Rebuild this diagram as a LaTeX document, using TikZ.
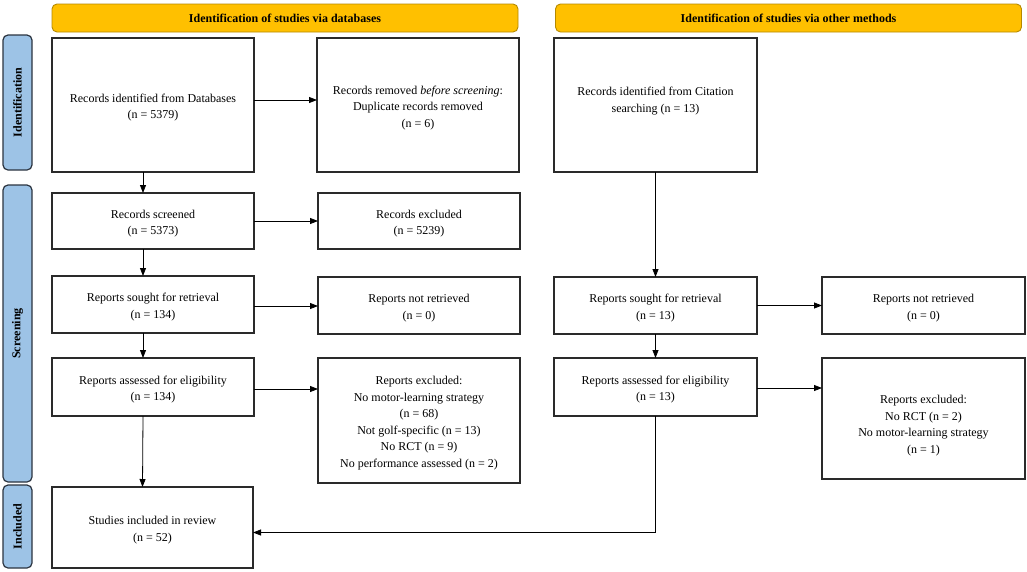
\documentclass[tikz,border=0pt]{standalone}
\usepackage{fontspec}
\setmainfont{Liberation Serif}
\usetikzlibrary{arrows.meta}
\definecolor{hdrfill}{HTML}{FFC000}
\definecolor{hdrline}{HTML}{B58900}
\definecolor{sidefill}{HTML}{9DC3E6}
\definecolor{sideline}{HTML}{2B3440}
\definecolor{boxline}{HTML}{2A2A2A}
\begin{document}
\begin{tikzpicture}[x=1pt,y=-1pt,
  every node/.style={inner sep=0pt,outer sep=0pt},
  flowbox/.style={draw=boxline,line width=1.2pt,fill=white,rectangle,align=center,
     font=\fontsize{12}{16.5}\selectfont,minimum width=202pt},
  hdr/.style={draw=hdrline,line width=0.9pt,fill=hdrfill,rounded corners=5pt,
     minimum width=466pt,minimum height=28pt,font=\fontsize{12}{14}\selectfont\bfseries},
  sidebar/.style={draw=sideline,line width=1.2pt,fill=sidefill,rounded corners=5pt,
     minimum width=29pt,font=\fontsize{12}{14}\selectfont\bfseries},
  arr/.style={draw=black,line width=0.8pt,-{Triangle[length=8pt,width=6pt]}}]
\useasboundingbox (0,0) rectangle (1027,571);
\newcommand{\topsp}{\rule{0pt}{14pt}}
% headers
\node[hdr] (h1) at (285,18) {Identification of studies via databases};
\node[hdr] (h2) at (788.5,18) {Identification of studies via other methods};
% side bars
\node[sidebar,minimum height=135pt] (sid) at (17.5,102.5) {};
\node[rotate=90,font=\fontsize{12}{14}\selectfont\bfseries] (sidt) at (sid.center) {Identification};
\node[sidebar,minimum height=297pt] (ssc) at (17.5,333.5) {};
\node[rotate=90,font=\fontsize{12}{14}\selectfont\bfseries] (ssct) at (ssc.center) {Screening};
\node[sidebar,minimum height=83pt] (sin) at (17.5,526.5) {};
\node[rotate=90,font=\fontsize{12}{14}\selectfont\bfseries] (sint) at (sin.center) {Included};
% boxes
\node[flowbox,minimum height=134pt] (b1) at (153,105) {\topsp Records identified from Databases\\(n = 5379)};
\node[flowbox,minimum height=134pt] (b2) at (418,105) {\topsp Records removed \textit{before screening}:\\Duplicate records removed\\(n = 6)};
\node[flowbox,minimum height=134pt,minimum width=203pt] (b3) at (655.5,105) {\topsp Records identified from Citation\\searching (n = 13)\\[0pt]};
\node[flowbox,minimum height=56pt] (s1) at (153,221) {\topsp Records screened\\(n = 5373)};
\node[flowbox,minimum height=56pt] (s2) at (419,221) {\topsp Records excluded\\(n = 5239)};
\node[flowbox,minimum height=57pt] (r1) at (153,304.5) {\topsp Reports sought for retrieval\\(n = 134)};
\node[flowbox,minimum height=57pt] (r2) at (419,305.5) {\topsp Reports not retrieved\\(n = 0)};
\node[flowbox,minimum height=57pt,minimum width=203pt] (r3) at (655.5,305.5) {\topsp Reports sought for retrieval\\(n = 13)};
\node[flowbox,minimum height=57pt,minimum width=203pt] (r4) at (923.5,305.5) {\topsp Reports not retrieved\\(n = 0)};
\node[flowbox,minimum height=58pt] (a1) at (153,387) {\topsp Reports assessed for eligibility\\(n = 134)};
\node[flowbox,minimum height=125pt] (a2) at (419,420.5) {\topsp Reports excluded:\\No motor-learning strategy\\(n = 68)\\Not golf-specific (n = 13)\\No RCT (n = 9)\\No performance assessed (n = 2)};
\node[flowbox,minimum height=58pt,minimum width=203pt] (a3) at (655.5,387) {\topsp Reports assessed for eligibility\\(n = 13)};
\node[flowbox,minimum height=121pt,minimum width=203pt] (a4) at (923.5,418.5) {\rule{0pt}{23pt}Reports excluded:\\No RCT (n = 2)\\No motor-learning strategy\\(n = 1)};
\node[flowbox,minimum height=81pt,minimum width=201pt] (inc) at (152.5,527.5) {\topsp Studies included in review\\(n = 52)};
% connectors
\draw[arr] ([xshift=-10pt]b1.south) -- ([xshift=-10pt]s1.north);
\draw[arr] ([xshift=-10pt]s1.south) -- ([xshift=-10pt]r1.north);
\draw[arr] ([xshift=-10pt]r1.south) -- ([xshift=-10pt]a1.north);
\draw[arr] ([xshift=-10pt]a1.south) -- ([xshift=-10pt]inc.north);
\draw[arr] ([yshift=5pt]b1.east) -- ([yshift=5pt]b1.east -| b2.west);
\draw[arr] (s1.east) -- (s1.east -| s2.west);
\draw[arr] ([yshift=-1.5pt]r1.east) -- ([yshift=-1.5pt]r1.east -| r2.west);
\draw[arr] ([yshift=-2pt]a1.east) -- ([yshift=-2pt]a1.east -| a2.west);
\draw[arr] (b3.south) -- (r3.north);
\draw[arr] (r3.south) -- (a3.north);
\draw[arr] (r3.east) -- (r4.west);
\draw[arr] ([yshift=-1pt]a3.east) -- ([yshift=-1pt]a3.east -| a4.west);
\draw[arr] (a3.south) |- ([yshift=-5pt]inc.east);
\end{tikzpicture}
\end{document}
